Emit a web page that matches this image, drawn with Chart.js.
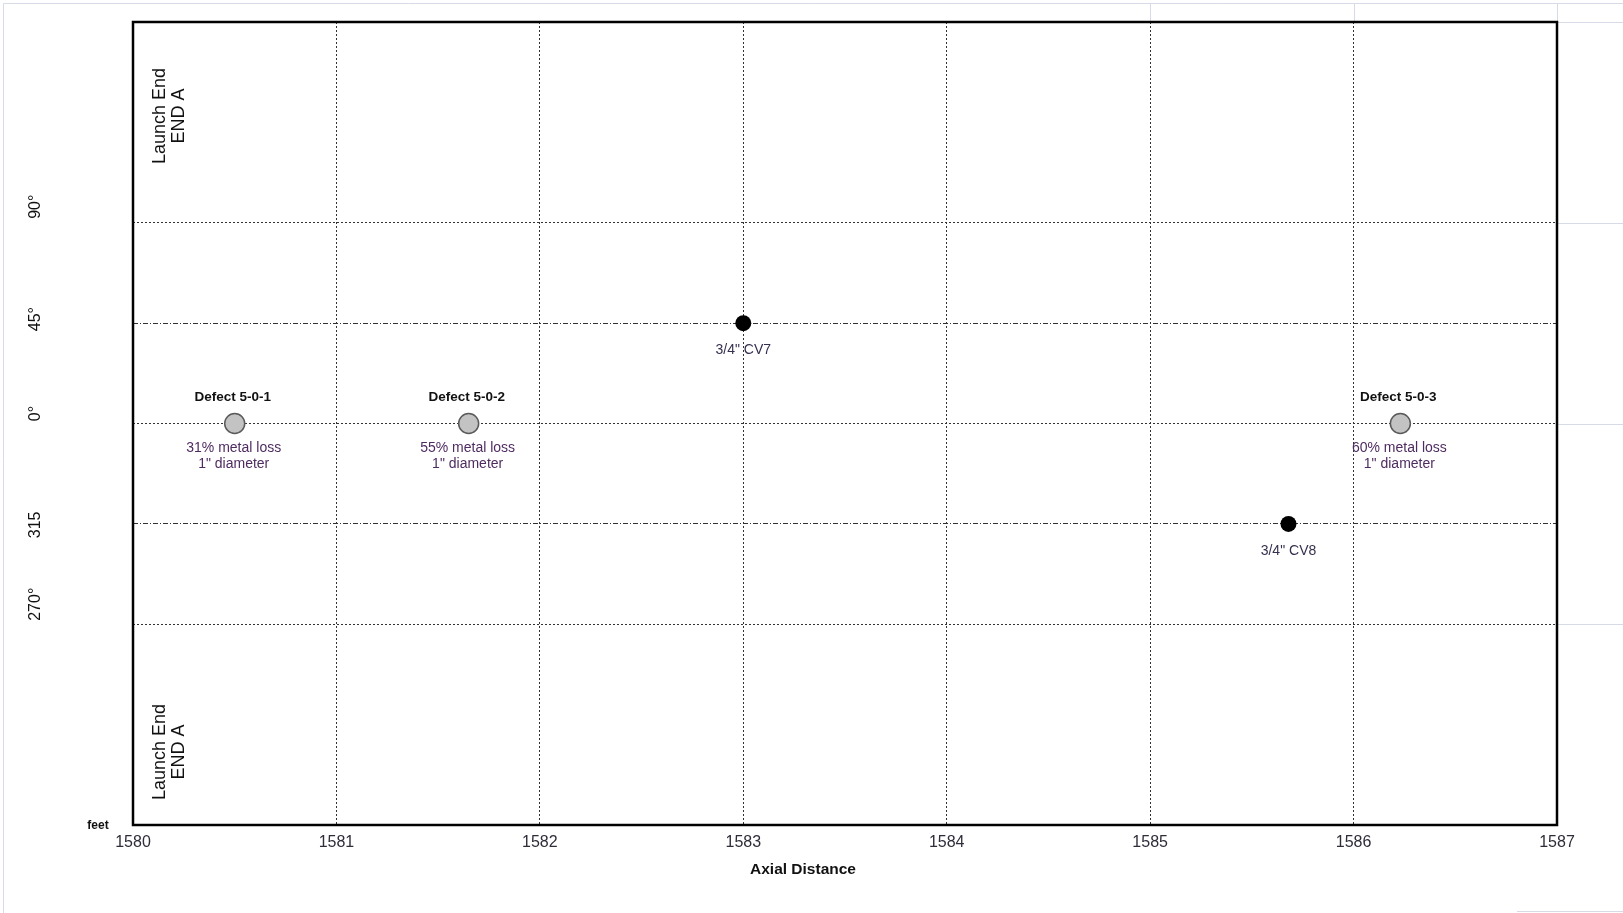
<!DOCTYPE html>
<html>
<head>
<meta charset="utf-8">
<title>Axial Distance</title>
<script src="https://cdn.jsdelivr.net/npm/chart.js@4.4.1/dist/chart.umd.min.js"></script>
<style>
  html, body { margin: 0; padding: 0; background: #ffffff; }
  canvas { display: block; }
</style>
</head>
<body>
<canvas id="chart" width="1623" height="913"></canvas>
<script>
// Axial distance axis (feet)
const axialMin = 1580;
const axialMax = 1587;

// Circumferential position axis: clock angle in degrees
const angleAxisTicks = [-180, -90, -45, 0, 45, 90, 180];
const angleLabelValues = [90, 45, 0, 315, 270];
const angleLabelText = ['90°', '45°', '0°', '315', '270°'];
const dashDotAngles = [45, 315];

// Metal-loss defects
const defectNames = ['Defect 5-0-1', 'Defect 5-0-2', 'Defect 5-0-3'];
const defectDistance = [1580.5, 1581.65, 1586.23];
const defectAngle = [0, 0, 0];
const defectLossPct = [31, 55, 60];
const defectDiameter = ['1"', '1"', '1"'];

// Valves
const valveNames = ['3/4" CV7', '3/4" CV8'];
const valveDistance = [1583.0, 1585.68];
const valveAngle = [45, 315];

// End marker text
const endLabelLines = ['Launch End', 'END A'];
const axisTitle = 'Axial Distance';
const unitLabel = 'feet';

const FONT = '"Liberation Sans", Arial, Helvetica, sans-serif';
const toAxis = a => (a > 180 ? a - 360 : a);

// Small nudges for the rotated angle labels
const angleLabelNudge = [-16, -4, -10, 1, -20];

const frameLines = {
  id: 'frameLines',
  beforeDraw(chart) {
    const { ctx, chartArea: a, width, height } = chart;
    const xs = chart.scales.x, ys = chart.scales.y;
    ctx.save();
    ctx.fillStyle = '#ffffff';
    ctx.fillRect(0, 0, width, height);
    ctx.strokeStyle = '#d7dbe7';
    ctx.lineWidth = 1;
    ctx.beginPath();
    ctx.moveTo(3.5, height);
    ctx.lineTo(3.5, 3.5);
    ctx.lineTo(width, 3.5);
    [1585, 1586, 1587].forEach(v => {
      const px = Math.round(xs.getPixelForValue(v)) + 0.5;
      ctx.moveTo(px, 3.5);
      ctx.lineTo(px, a.top);
    });
    [180, 90, 0, -90].forEach(v => {
      const py = Math.round(ys.getPixelForValue(v)) + 0.5;
      ctx.moveTo(a.right, py);
      ctx.lineTo(width, py);
    });
    ctx.moveTo(a.right - 40, height - 1.5);
    ctx.lineTo(width, height - 1.5);
    ctx.stroke();
    ctx.restore();
  }
};

const plotFrame = {
  id: 'plotFrame',
  beforeDatasetsDraw(chart) {
    const { ctx, chartArea: a } = chart;
    ctx.save();
    ctx.strokeStyle = '#000000';
    ctx.lineWidth = 2.5;
    ctx.strokeRect(a.left, a.top, a.right - a.left, a.bottom - a.top);
    ctx.restore();
  }
};

const markerLabels = {
  id: 'markerLabels',
  afterDatasetsDraw(chart) {
    const { ctx } = chart;
    ctx.save();
    ctx.textAlign = 'center';
    ctx.textBaseline = 'middle';
    chart.getDatasetMeta(0).data.forEach((pt, i) => {
      ctx.font = 'bold 13.5px ' + FONT;
      ctx.fillStyle = '#111111';
      ctx.fillText(defectNames[i], pt.x - 2, pt.y - 26);
      ctx.font = '14px ' + FONT;
      ctx.fillStyle = '#4f2c60';
      ctx.fillText(defectLossPct[i] + '% metal loss', pt.x - 1, pt.y + 25);
      ctx.fillText(defectDiameter[i] + ' diameter', pt.x - 1, pt.y + 41);
    });
    chart.getDatasetMeta(1).data.forEach((pt, i) => {
      ctx.font = '14px ' + FONT;
      ctx.fillStyle = '#35304f';
      ctx.fillText(valveNames[i], pt.x, pt.y + 27);
    });
    ctx.restore();
  }
};

const axisText = {
  id: 'axisText',
  afterDraw(chart) {
    const { ctx, chartArea: a } = chart;
    const ys = chart.scales.y;
    ctx.save();
    ctx.fillStyle = '#111111';
    ctx.textAlign = 'center';
    ctx.textBaseline = 'middle';

    // rotated angle labels
    ctx.font = '16px ' + FONT;
    angleLabelValues.forEach((v, i) => {
      const py = ys.getPixelForValue(toAxis(v)) + angleLabelNudge[i];
      ctx.save();
      ctx.translate(36, py);
      ctx.rotate(-Math.PI / 2);
      ctx.fillText(angleLabelText[i], 0, 0);
      ctx.restore();
    });

    // unit label
    ctx.font = 'bold 12px ' + FONT;
    ctx.fillText(unitLabel, a.left - 35, a.bottom + 1);

    // axis title
    ctx.font = 'bold 15.5px ' + FONT;
    ctx.fillText(axisTitle, (a.left + a.right) / 2 - 42, a.bottom + 45);

    // end markers at both edges of the angle axis
    ctx.font = '18px ' + FONT;
    [a.top + 94, a.bottom - 73].forEach(cy => {
      endLabelLines.forEach((line, j) => {
        ctx.save();
        ctx.translate(a.left + 27 + j * 19.5, cy);
        ctx.rotate(-Math.PI / 2);
        ctx.fillText(line, 0, 0);
        ctx.restore();
      });
    });
    ctx.restore();
  }
};

new Chart(document.getElementById('chart'), {
  type: 'scatter',
  data: {
    datasets: [
      {
        label: 'Defects',
        data: defectDistance.map((d, i) => ({ x: d, y: toAxis(defectAngle[i]) })),
        pointRadius: 10,
        pointBackgroundColor: '#c3c3c3',
        pointBorderColor: '#5a5a5a',
        pointBorderWidth: 1.5
      },
      {
        label: 'Valves',
        data: valveDistance.map((d, i) => ({ x: d, y: toAxis(valveAngle[i]) })),
        pointRadius: 8,
        pointBackgroundColor: '#000000',
        pointBorderColor: '#000000',
        pointBorderWidth: 0
      }
    ]
  },
  options: {
    responsive: false,
    animation: false,
    events: [],
    layout: { padding: { left: 0, top: 22, right: 66, bottom: 0 } },
    plugins: {
      legend: { display: false },
      tooltip: { enabled: false }
    },
    scales: {
      x: {
        type: 'linear',
        min: axialMin,
        max: axialMax,
        afterFit: s => { s.height = 88; },
        ticks: {
          stepSize: 1,
          padding: 8,
          color: '#2e2e3a',
          font: { family: FONT, size: 16 },
          callback: v => String(v)
        },
        grid: {
          drawTicks: false,
          color: '#333333',
          lineWidth: 1
        },
        border: { display: false, dash: [2, 2] }
      },
      y: {
        type: 'linear',
        min: -180,
        max: 180,
        afterFit: s => { s.width = 133; },
        afterBuildTicks: s => { s.ticks = angleAxisTicks.map(v => ({ value: v })); },
        ticks: { display: false },
        grid: {
          drawTicks: false,
          color: '#333333',
          lineWidth: 1
        },
        border: {
          display: false,
          dash: ctx => {
            const v = ctx.tick ? ctx.tick.value : 0;
            const ang = v < 0 ? v + 360 : v;
            return dashDotAngles.includes(ang) ? [5, 2, 1, 2] : [2, 2];
          }
        }
      }
    }
  },
  plugins: [frameLines, plotFrame, markerLabels, axisText]
});
</script>
</body>
</html>
